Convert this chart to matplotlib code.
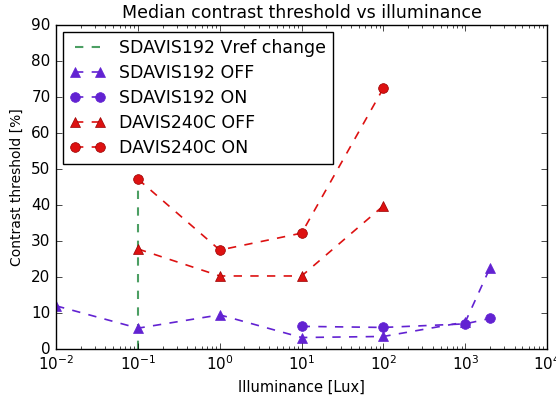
"""Median contrast threshold vs illuminance."""

import matplotlib

matplotlib.use("Agg")
import matplotlib.pyplot as plt

# data
vref_x = [0.1, 0.1]
vref_y = [0, 47.2]

sdavis_off_lux = [0.01, 0.1, 1, 10, 100, 1000, 2000]
sdavis_off_thr = [12.0, 5.8, 9.5, 3.2, 3.5, 7.5, 22.5]

sdavis_on_lux = [10, 100, 1000, 2000]
sdavis_on_thr = [6.3, 6.0, 7.0, 8.5]

davis_off_lux = [0.1, 1, 10, 100]
davis_off_thr = [27.8, 20.3, 20.3, 39.8]

davis_on_lux = [0.1, 1, 10, 100]
davis_on_thr = [47.2, 27.5, 32.2, 72.5]

GREEN = "#4c9f63"
PURPLE = "#6222d2"
RED = "#dd1111"


def main() -> None:
    plt.style.use("classic")
    plt.rcParams.update(
        {
            "font.family": "DejaVu Sans",
            "font.size": 11,
            "legend.fontsize": 12.5,
            "axes.titlesize": 12.5,
        }
    )

    figure = plt.figure(figsize=(5.56, 3.98), dpi=100)
    figure.patch.set_facecolor("white")
    axis = figure.add_axes([0.101, 0.123, 0.883, 0.814])

    axis.plot(vref_x, vref_y, "--", color=GREEN, linewidth=1.5,
              label="SDAVIS192 Vref change")
    axis.plot(sdavis_off_lux, sdavis_off_thr, "^--", color=PURPLE,
              markeredgecolor=PURPLE, markersize=7, linewidth=1.2,
              label="SDAVIS192 OFF")
    axis.plot(sdavis_on_lux, sdavis_on_thr, "o--", color=PURPLE,
              markeredgecolor=PURPLE, markersize=7, linewidth=1.2,
              label="SDAVIS192 ON")
    axis.plot(davis_off_lux, davis_off_thr, "^--", color=RED,
              markeredgecolor="#990000", markersize=7, linewidth=1.2,
              label="DAVIS240C OFF")
    axis.plot(davis_on_lux, davis_on_thr, "o--", color=RED,
              markeredgecolor="#990000", markersize=7, linewidth=1.2,
              label="DAVIS240C ON")

    axis.set_xscale("log")
    axis.set_xlim(1e-2, 1e4)
    axis.set_ylim(0, 90)
    axis.set_xlabel("Illuminance [Lux]", fontsize=10.5)
    axis.set_ylabel("Contrast threshold [%]", fontsize=10)
    axis.set_title("Median contrast threshold vs illuminance")

    axis.legend(loc="upper left", numpoints=2, handlelength=2.0,
                borderaxespad=0.4, labelspacing=0.4)

    figure.savefig("out.png", dpi=100, facecolor="white")
    plt.close(figure)


if __name__ == "__main__":
    main()
